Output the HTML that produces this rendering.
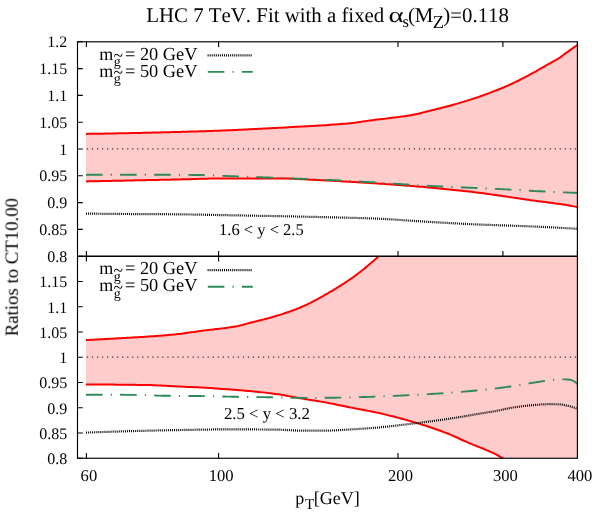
<!DOCTYPE html>
<html><head><meta charset="utf-8"><title>plot</title>
<style>html,body{margin:0;padding:0;background:#fff;}svg{display:block;}text{font-family:"Liberation Serif",serif;fill:#000;font-kerning:none;text-rendering:geometricPrecision;}</style></head><body>
<svg width="599" height="517" viewBox="0 0 599 517">
<rect width="599" height="517" fill="#fff"/>
<defs><clipPath id="cu"><rect x="77.5" y="41.8" width="499.9" height="214.39999999999998"/></clipPath><clipPath id="cl"><rect x="77.5" y="256.2" width="499.9" height="202.05"/></clipPath></defs>
<path d="M86.4,41.8 v5.2 M86.4,250.89999999999998 v10.6 M86.4,458.25 v-5.2 M218.6,41.8 v5.2 M218.6,250.89999999999998 v10.6 M218.6,458.25 v-5.2 M398.0,41.8 v5.2 M398.0,250.89999999999998 v10.6 M398.0,458.25 v-5.2 M502.9,41.8 v5.2 M502.9,250.89999999999998 v10.6 M502.9,458.25 v-5.2 M577.4,41.8 v5.2 M577.4,250.89999999999998 v10.6 M577.4,458.25 v-5.2 M77.5,41.80 h5.3 M77.5,256.20 h5.3 M77.5,68.60 h5.3 M77.5,281.46 h5.3 M77.5,95.40 h5.3 M77.5,306.71 h5.3 M77.5,122.20 h5.3 M77.5,331.97 h5.3 M77.5,149.00 h5.3 M77.5,357.23 h5.3 M77.5,175.80 h5.3 M77.5,382.48 h5.3 M77.5,202.60 h5.3 M77.5,407.74 h5.3 M77.5,229.40 h5.3 M77.5,432.99 h5.3 M77.5,256.20 h5.3 M77.5,458.25 h5.3 " fill="none" stroke="#000" stroke-width="1.1"/>
<g clip-path="url(#cu)">
<path d="M86.00,133.90 L88.47,133.86 L90.94,133.83 L93.41,133.79 L95.88,133.75 L98.35,133.71 L100.82,133.67 L103.29,133.63 L105.76,133.58 L108.23,133.54 L110.70,133.49 L113.17,133.45 L115.64,133.40 L118.11,133.35 L120.58,133.30 L123.05,133.25 L125.52,133.20 L127.99,133.15 L130.46,133.09 L132.93,133.04 L135.40,132.99 L137.87,132.93 L140.34,132.88 L142.81,132.82 L145.28,132.76 L147.75,132.70 L150.22,132.64 L152.69,132.59 L155.16,132.53 L157.63,132.47 L160.10,132.40 L162.57,132.34 L165.04,132.28 L167.51,132.22 L169.97,132.16 L172.44,132.09 L174.91,132.03 L177.38,131.96 L179.85,131.90 L182.32,131.83 L184.79,131.76 L187.26,131.69 L189.73,131.62 L192.20,131.55 L194.67,131.48 L197.14,131.40 L199.61,131.33 L202.08,131.25 L204.55,131.17 L207.02,131.09 L209.49,131.00 L211.96,130.92 L214.43,130.83 L216.90,130.74 L219.37,130.65 L221.84,130.56 L224.31,130.47 L226.78,130.37 L229.25,130.27 L231.72,130.16 L234.19,130.06 L236.66,129.94 L239.13,129.83 L241.60,129.71 L244.07,129.59 L246.54,129.47 L249.01,129.34 L251.48,129.21 L253.95,129.08 L256.42,128.95 L258.89,128.82 L261.36,128.69 L263.83,128.55 L266.30,128.42 L268.77,128.29 L271.24,128.15 L273.71,128.02 L276.18,127.89 L278.65,127.76 L281.12,127.63 L283.59,127.50 L286.06,127.38 L288.53,127.25 L291.00,127.12 L293.47,126.99 L295.94,126.86 L298.41,126.73 L300.88,126.60 L303.35,126.46 L305.82,126.33 L308.29,126.19 L310.76,126.05 L313.23,125.90 L315.70,125.76 L318.17,125.60 L320.64,125.45 L323.11,125.29 L325.58,125.13 L328.05,124.96 L330.52,124.79 L332.98,124.62 L335.45,124.44 L337.92,124.25 L340.39,124.05 L342.86,123.85 L345.33,123.64 L347.80,123.41 L350.27,123.17 L352.74,122.92 L355.21,122.62 L357.68,122.31 L360.15,121.97 L362.62,121.61 L365.09,121.25 L367.56,120.88 L370.03,120.52 L372.50,120.17 L374.97,119.83 L377.44,119.52 L379.91,119.22 L382.38,118.93 L384.85,118.65 L387.32,118.38 L389.79,118.10 L392.26,117.81 L394.73,117.52 L397.20,117.21 L399.67,116.88 L402.14,116.54 L404.61,116.17 L407.08,115.79 L409.55,115.39 L412.02,114.96 L414.49,114.50 L416.96,114.00 L419.43,113.41 L421.90,112.77 L424.37,112.12 L426.84,111.49 L429.31,110.88 L431.78,110.27 L434.25,109.67 L436.72,109.06 L439.19,108.46 L441.66,107.84 L444.13,107.22 L446.60,106.58 L449.07,105.93 L451.54,105.25 L454.01,104.56 L456.48,103.86 L458.95,103.14 L461.42,102.41 L463.89,101.66 L466.36,100.90 L468.83,100.13 L471.30,99.34 L473.77,98.54 L476.24,97.72 L478.71,96.89 L481.18,96.03 L483.65,95.15 L486.12,94.25 L488.59,93.33 L491.06,92.39 L493.53,91.44 L495.99,90.47 L498.46,89.49 L500.93,88.50 L503.40,87.48 L505.87,86.43 L508.34,85.36 L510.81,84.26 L513.28,83.13 L515.75,81.95 L518.22,80.73 L520.69,79.47 L523.16,78.19 L525.63,76.88 L528.10,75.56 L530.57,74.23 L533.04,72.89 L535.51,71.51 L537.98,70.11 L540.45,68.69 L542.92,67.27 L545.39,65.84 L547.86,64.43 L550.33,63.04 L552.80,61.70 L555.27,60.36 L557.74,58.93 L560.21,57.33 L562.68,55.53 L565.15,53.66 L567.62,51.83 L570.09,50.09 L572.56,48.37 L575.03,46.67 L577.50,45.00 L577.50,207.10 L575.03,206.61 L572.56,206.12 L570.09,205.66 L567.62,205.24 L565.15,204.84 L562.68,204.46 L560.21,204.10 L557.74,203.75 L555.27,203.40 L552.80,203.07 L550.33,202.74 L547.86,202.42 L545.39,202.10 L542.92,201.78 L540.45,201.46 L537.98,201.14 L535.51,200.82 L533.04,200.48 L530.57,200.14 L528.10,199.79 L525.63,199.44 L523.16,199.08 L520.69,198.72 L518.22,198.35 L515.75,197.99 L513.28,197.62 L510.81,197.25 L508.34,196.88 L505.87,196.51 L503.40,196.15 L500.93,195.78 L498.46,195.42 L495.99,195.07 L493.53,194.71 L491.06,194.37 L488.59,194.02 L486.12,193.69 L483.65,193.36 L481.18,193.04 L478.71,192.73 L476.24,192.43 L473.77,192.13 L471.30,191.84 L468.83,191.56 L466.36,191.27 L463.89,191.00 L461.42,190.72 L458.95,190.45 L456.48,190.18 L454.01,189.92 L451.54,189.66 L449.07,189.40 L446.60,189.15 L444.13,188.90 L441.66,188.66 L439.19,188.42 L436.72,188.18 L434.25,187.95 L431.78,187.72 L429.31,187.49 L426.84,187.27 L424.37,187.06 L421.90,186.84 L419.43,186.63 L416.96,186.43 L414.49,186.22 L412.02,186.02 L409.55,185.83 L407.08,185.63 L404.61,185.44 L402.14,185.25 L399.67,185.06 L397.20,184.88 L394.73,184.70 L392.26,184.52 L389.79,184.34 L387.32,184.17 L384.85,184.00 L382.38,183.83 L379.91,183.66 L377.44,183.50 L374.97,183.33 L372.50,183.17 L370.03,183.01 L367.56,182.85 L365.09,182.70 L362.62,182.54 L360.15,182.39 L357.68,182.24 L355.21,182.09 L352.74,181.95 L350.27,181.80 L347.80,181.66 L345.33,181.52 L342.86,181.38 L340.39,181.24 L337.92,181.11 L335.45,180.98 L332.98,180.85 L330.52,180.72 L328.05,180.60 L325.58,180.48 L323.11,180.35 L320.64,180.22 L318.17,180.09 L315.70,179.95 L313.23,179.81 L310.76,179.67 L308.29,179.54 L305.82,179.40 L303.35,179.27 L300.88,179.14 L298.41,179.02 L295.94,178.90 L293.47,178.80 L291.00,178.70 L288.53,178.61 L286.06,178.54 L283.59,178.48 L281.12,178.44 L278.65,178.41 L276.18,178.40 L273.71,178.40 L271.24,178.40 L268.77,178.40 L266.30,178.40 L263.83,178.40 L261.36,178.40 L258.89,178.40 L256.42,178.40 L253.95,178.40 L251.48,178.40 L249.01,178.40 L246.54,178.40 L244.07,178.40 L241.60,178.40 L239.13,178.40 L236.66,178.40 L234.19,178.40 L231.72,178.40 L229.25,178.40 L226.78,178.40 L224.31,178.40 L221.84,178.41 L219.37,178.44 L216.90,178.47 L214.43,178.50 L211.96,178.55 L209.49,178.60 L207.02,178.66 L204.55,178.72 L202.08,178.79 L199.61,178.85 L197.14,178.92 L194.67,179.00 L192.20,179.07 L189.73,179.14 L187.26,179.21 L184.79,179.28 L182.32,179.35 L179.85,179.41 L177.38,179.47 L174.91,179.52 L172.44,179.58 L169.97,179.63 L167.51,179.68 L165.04,179.74 L162.57,179.79 L160.10,179.84 L157.63,179.90 L155.16,179.95 L152.69,180.00 L150.22,180.05 L147.75,180.11 L145.28,180.16 L142.81,180.21 L140.34,180.26 L137.87,180.32 L135.40,180.37 L132.93,180.42 L130.46,180.47 L127.99,180.53 L125.52,180.58 L123.05,180.63 L120.58,180.68 L118.11,180.73 L115.64,180.79 L113.17,180.84 L110.70,180.89 L108.23,180.94 L105.76,180.99 L103.29,181.04 L100.82,181.09 L98.35,181.15 L95.88,181.20 L93.41,181.25 L90.94,181.30 L88.47,181.35 L86.00,181.40Z" fill="#ffcccc"/>
<path d="M86.00,133.90 L88.47,133.86 L90.94,133.83 L93.41,133.79 L95.88,133.75 L98.35,133.71 L100.82,133.67 L103.29,133.63 L105.76,133.58 L108.23,133.54 L110.70,133.49 L113.17,133.45 L115.64,133.40 L118.11,133.35 L120.58,133.30 L123.05,133.25 L125.52,133.20 L127.99,133.15 L130.46,133.09 L132.93,133.04 L135.40,132.99 L137.87,132.93 L140.34,132.88 L142.81,132.82 L145.28,132.76 L147.75,132.70 L150.22,132.64 L152.69,132.59 L155.16,132.53 L157.63,132.47 L160.10,132.40 L162.57,132.34 L165.04,132.28 L167.51,132.22 L169.97,132.16 L172.44,132.09 L174.91,132.03 L177.38,131.96 L179.85,131.90 L182.32,131.83 L184.79,131.76 L187.26,131.69 L189.73,131.62 L192.20,131.55 L194.67,131.48 L197.14,131.40 L199.61,131.33 L202.08,131.25 L204.55,131.17 L207.02,131.09 L209.49,131.00 L211.96,130.92 L214.43,130.83 L216.90,130.74 L219.37,130.65 L221.84,130.56 L224.31,130.47 L226.78,130.37 L229.25,130.27 L231.72,130.16 L234.19,130.06 L236.66,129.94 L239.13,129.83 L241.60,129.71 L244.07,129.59 L246.54,129.47 L249.01,129.34 L251.48,129.21 L253.95,129.08 L256.42,128.95 L258.89,128.82 L261.36,128.69 L263.83,128.55 L266.30,128.42 L268.77,128.29 L271.24,128.15 L273.71,128.02 L276.18,127.89 L278.65,127.76 L281.12,127.63 L283.59,127.50 L286.06,127.38 L288.53,127.25 L291.00,127.12 L293.47,126.99 L295.94,126.86 L298.41,126.73 L300.88,126.60 L303.35,126.46 L305.82,126.33 L308.29,126.19 L310.76,126.05 L313.23,125.90 L315.70,125.76 L318.17,125.60 L320.64,125.45 L323.11,125.29 L325.58,125.13 L328.05,124.96 L330.52,124.79 L332.98,124.62 L335.45,124.44 L337.92,124.25 L340.39,124.05 L342.86,123.85 L345.33,123.64 L347.80,123.41 L350.27,123.17 L352.74,122.92 L355.21,122.62 L357.68,122.31 L360.15,121.97 L362.62,121.61 L365.09,121.25 L367.56,120.88 L370.03,120.52 L372.50,120.17 L374.97,119.83 L377.44,119.52 L379.91,119.22 L382.38,118.93 L384.85,118.65 L387.32,118.38 L389.79,118.10 L392.26,117.81 L394.73,117.52 L397.20,117.21 L399.67,116.88 L402.14,116.54 L404.61,116.17 L407.08,115.79 L409.55,115.39 L412.02,114.96 L414.49,114.50 L416.96,114.00 L419.43,113.41 L421.90,112.77 L424.37,112.12 L426.84,111.49 L429.31,110.88 L431.78,110.27 L434.25,109.67 L436.72,109.06 L439.19,108.46 L441.66,107.84 L444.13,107.22 L446.60,106.58 L449.07,105.93 L451.54,105.25 L454.01,104.56 L456.48,103.86 L458.95,103.14 L461.42,102.41 L463.89,101.66 L466.36,100.90 L468.83,100.13 L471.30,99.34 L473.77,98.54 L476.24,97.72 L478.71,96.89 L481.18,96.03 L483.65,95.15 L486.12,94.25 L488.59,93.33 L491.06,92.39 L493.53,91.44 L495.99,90.47 L498.46,89.49 L500.93,88.50 L503.40,87.48 L505.87,86.43 L508.34,85.36 L510.81,84.26 L513.28,83.13 L515.75,81.95 L518.22,80.73 L520.69,79.47 L523.16,78.19 L525.63,76.88 L528.10,75.56 L530.57,74.23 L533.04,72.89 L535.51,71.51 L537.98,70.11 L540.45,68.69 L542.92,67.27 L545.39,65.84 L547.86,64.43 L550.33,63.04 L552.80,61.70 L555.27,60.36 L557.74,58.93 L560.21,57.33 L562.68,55.53 L565.15,53.66 L567.62,51.83 L570.09,50.09 L572.56,48.37 L575.03,46.67 L577.50,45.00" fill="none" stroke="#ff0000" stroke-width="2"/>
<path d="M86.00,181.40 L88.47,181.35 L90.94,181.30 L93.41,181.25 L95.88,181.20 L98.35,181.15 L100.82,181.09 L103.29,181.04 L105.76,180.99 L108.23,180.94 L110.70,180.89 L113.17,180.84 L115.64,180.79 L118.11,180.73 L120.58,180.68 L123.05,180.63 L125.52,180.58 L127.99,180.53 L130.46,180.47 L132.93,180.42 L135.40,180.37 L137.87,180.32 L140.34,180.26 L142.81,180.21 L145.28,180.16 L147.75,180.11 L150.22,180.05 L152.69,180.00 L155.16,179.95 L157.63,179.90 L160.10,179.84 L162.57,179.79 L165.04,179.74 L167.51,179.68 L169.97,179.63 L172.44,179.58 L174.91,179.52 L177.38,179.47 L179.85,179.41 L182.32,179.35 L184.79,179.28 L187.26,179.21 L189.73,179.14 L192.20,179.07 L194.67,179.00 L197.14,178.92 L199.61,178.85 L202.08,178.79 L204.55,178.72 L207.02,178.66 L209.49,178.60 L211.96,178.55 L214.43,178.50 L216.90,178.47 L219.37,178.44 L221.84,178.41 L224.31,178.40 L226.78,178.40 L229.25,178.40 L231.72,178.40 L234.19,178.40 L236.66,178.40 L239.13,178.40 L241.60,178.40 L244.07,178.40 L246.54,178.40 L249.01,178.40 L251.48,178.40 L253.95,178.40 L256.42,178.40 L258.89,178.40 L261.36,178.40 L263.83,178.40 L266.30,178.40 L268.77,178.40 L271.24,178.40 L273.71,178.40 L276.18,178.40 L278.65,178.41 L281.12,178.44 L283.59,178.48 L286.06,178.54 L288.53,178.61 L291.00,178.70 L293.47,178.80 L295.94,178.90 L298.41,179.02 L300.88,179.14 L303.35,179.27 L305.82,179.40 L308.29,179.54 L310.76,179.67 L313.23,179.81 L315.70,179.95 L318.17,180.09 L320.64,180.22 L323.11,180.35 L325.58,180.48 L328.05,180.60 L330.52,180.72 L332.98,180.85 L335.45,180.98 L337.92,181.11 L340.39,181.24 L342.86,181.38 L345.33,181.52 L347.80,181.66 L350.27,181.80 L352.74,181.95 L355.21,182.09 L357.68,182.24 L360.15,182.39 L362.62,182.54 L365.09,182.70 L367.56,182.85 L370.03,183.01 L372.50,183.17 L374.97,183.33 L377.44,183.50 L379.91,183.66 L382.38,183.83 L384.85,184.00 L387.32,184.17 L389.79,184.34 L392.26,184.52 L394.73,184.70 L397.20,184.88 L399.67,185.06 L402.14,185.25 L404.61,185.44 L407.08,185.63 L409.55,185.83 L412.02,186.02 L414.49,186.22 L416.96,186.43 L419.43,186.63 L421.90,186.84 L424.37,187.06 L426.84,187.27 L429.31,187.49 L431.78,187.72 L434.25,187.95 L436.72,188.18 L439.19,188.42 L441.66,188.66 L444.13,188.90 L446.60,189.15 L449.07,189.40 L451.54,189.66 L454.01,189.92 L456.48,190.18 L458.95,190.45 L461.42,190.72 L463.89,191.00 L466.36,191.27 L468.83,191.56 L471.30,191.84 L473.77,192.13 L476.24,192.43 L478.71,192.73 L481.18,193.04 L483.65,193.36 L486.12,193.69 L488.59,194.02 L491.06,194.37 L493.53,194.71 L495.99,195.07 L498.46,195.42 L500.93,195.78 L503.40,196.15 L505.87,196.51 L508.34,196.88 L510.81,197.25 L513.28,197.62 L515.75,197.99 L518.22,198.35 L520.69,198.72 L523.16,199.08 L525.63,199.44 L528.10,199.79 L530.57,200.14 L533.04,200.48 L535.51,200.82 L537.98,201.14 L540.45,201.46 L542.92,201.78 L545.39,202.10 L547.86,202.42 L550.33,202.74 L552.80,203.07 L555.27,203.40 L557.74,203.75 L560.21,204.10 L562.68,204.46 L565.15,204.84 L567.62,205.24 L570.09,205.66 L572.56,206.12 L575.03,206.61 L577.50,207.10" fill="none" stroke="#ff0000" stroke-width="2"/>
<path d="M86.9,148.9 L577.4,148.9" fill="none" stroke="#402828" stroke-width="1.3" stroke-dasharray="1.2 3.83"/>
<path d="M86.00,213.60 L88.47,213.63 L90.94,213.66 L93.41,213.69 L95.88,213.71 L98.35,213.74 L100.82,213.77 L103.29,213.79 L105.76,213.82 L108.23,213.84 L110.70,213.87 L113.17,213.89 L115.64,213.91 L118.11,213.94 L120.58,213.96 L123.05,213.98 L125.52,214.00 L127.99,214.01 L130.46,214.03 L132.93,214.05 L135.40,214.06 L137.87,214.08 L140.34,214.09 L142.81,214.10 L145.28,214.11 L147.75,214.13 L150.22,214.14 L152.69,214.15 L155.16,214.16 L157.63,214.17 L160.10,214.19 L162.57,214.20 L165.04,214.22 L167.51,214.23 L169.97,214.25 L172.44,214.27 L174.91,214.29 L177.38,214.31 L179.85,214.34 L182.32,214.37 L184.79,214.40 L187.26,214.44 L189.73,214.48 L192.20,214.53 L194.67,214.57 L197.14,214.62 L199.61,214.67 L202.08,214.72 L204.55,214.77 L207.02,214.82 L209.49,214.87 L211.96,214.92 L214.43,214.97 L216.90,215.02 L219.37,215.07 L221.84,215.12 L224.31,215.17 L226.78,215.21 L229.25,215.26 L231.72,215.30 L234.19,215.35 L236.66,215.39 L239.13,215.43 L241.60,215.47 L244.07,215.52 L246.54,215.56 L249.01,215.60 L251.48,215.65 L253.95,215.69 L256.42,215.73 L258.89,215.78 L261.36,215.82 L263.83,215.87 L266.30,215.91 L268.77,215.96 L271.24,216.01 L273.71,216.05 L276.18,216.10 L278.65,216.15 L281.12,216.20 L283.59,216.25 L286.06,216.30 L288.53,216.35 L291.00,216.41 L293.47,216.46 L295.94,216.51 L298.41,216.56 L300.88,216.62 L303.35,216.67 L305.82,216.73 L308.29,216.78 L310.76,216.84 L313.23,216.89 L315.70,216.95 L318.17,217.01 L320.64,217.07 L323.11,217.13 L325.58,217.19 L328.05,217.25 L330.52,217.31 L332.98,217.37 L335.45,217.43 L337.92,217.49 L340.39,217.55 L342.86,217.61 L345.33,217.67 L347.80,217.73 L350.27,217.79 L352.74,217.86 L355.21,217.93 L357.68,218.00 L360.15,218.07 L362.62,218.14 L365.09,218.22 L367.56,218.30 L370.03,218.38 L372.50,218.47 L374.97,218.56 L377.44,218.66 L379.91,218.77 L382.38,218.88 L384.85,219.01 L387.32,219.15 L389.79,219.30 L392.26,219.45 L394.73,219.61 L397.20,219.77 L399.67,219.94 L402.14,220.11 L404.61,220.28 L407.08,220.45 L409.55,220.63 L412.02,220.80 L414.49,220.97 L416.96,221.13 L419.43,221.30 L421.90,221.45 L424.37,221.60 L426.84,221.75 L429.31,221.89 L431.78,222.04 L434.25,222.18 L436.72,222.32 L439.19,222.47 L441.66,222.61 L444.13,222.75 L446.60,222.89 L449.07,223.03 L451.54,223.17 L454.01,223.30 L456.48,223.44 L458.95,223.57 L461.42,223.70 L463.89,223.83 L466.36,223.95 L468.83,224.07 L471.30,224.19 L473.77,224.30 L476.24,224.41 L478.71,224.52 L481.18,224.62 L483.65,224.71 L486.12,224.81 L488.59,224.90 L491.06,224.99 L493.53,225.07 L495.99,225.16 L498.46,225.24 L500.93,225.32 L503.40,225.40 L505.87,225.48 L508.34,225.56 L510.81,225.65 L513.28,225.73 L515.75,225.82 L518.22,225.90 L520.69,225.99 L523.16,226.08 L525.63,226.18 L528.10,226.28 L530.57,226.38 L533.04,226.49 L535.51,226.60 L537.98,226.71 L540.45,226.82 L542.92,226.94 L545.39,227.06 L547.86,227.18 L550.33,227.31 L552.80,227.43 L555.27,227.56 L557.74,227.69 L560.21,227.82 L562.68,227.96 L565.15,228.10 L567.62,228.23 L570.09,228.37 L572.56,228.51 L575.03,228.66 L577.50,228.80" fill="none" stroke="#000" stroke-width="2.2" stroke-dasharray="1 1.05"/>
<path d="M86.00,174.70 L88.47,174.70 L90.94,174.70 L93.41,174.70 L95.88,174.70 L98.35,174.70 L100.82,174.70 L103.29,174.70 L105.76,174.70 L108.23,174.70 L110.70,174.70 L113.17,174.70 L115.64,174.70 L118.11,174.70 L120.58,174.70 L123.05,174.70 L125.52,174.70 L127.99,174.70 L130.46,174.70 L132.93,174.70 L135.40,174.70 L137.87,174.70 L140.34,174.70 L142.81,174.70 L145.28,174.70 L147.75,174.71 L150.22,174.71 L152.69,174.72 L155.16,174.72 L157.63,174.73 L160.10,174.74 L162.57,174.75 L165.04,174.76 L167.51,174.77 L169.97,174.79 L172.44,174.80 L174.91,174.81 L177.38,174.83 L179.85,174.85 L182.32,174.87 L184.79,174.88 L187.26,174.90 L189.73,174.92 L192.20,174.95 L194.67,174.97 L197.14,174.99 L199.61,175.02 L202.08,175.06 L204.55,175.12 L207.02,175.20 L209.49,175.28 L211.96,175.38 L214.43,175.48 L216.90,175.58 L219.37,175.69 L221.84,175.80 L224.31,175.91 L226.78,176.02 L229.25,176.12 L231.72,176.21 L234.19,176.30 L236.66,176.38 L239.13,176.47 L241.60,176.55 L244.07,176.64 L246.54,176.73 L249.01,176.81 L251.48,176.90 L253.95,176.98 L256.42,177.07 L258.89,177.16 L261.36,177.25 L263.83,177.34 L266.30,177.43 L268.77,177.52 L271.24,177.61 L273.71,177.71 L276.18,177.80 L278.65,177.89 L281.12,177.99 L283.59,178.09 L286.06,178.18 L288.53,178.28 L291.00,178.38 L293.47,178.48 L295.94,178.58 L298.41,178.68 L300.88,178.78 L303.35,178.88 L305.82,178.98 L308.29,179.08 L310.76,179.19 L313.23,179.29 L315.70,179.40 L318.17,179.51 L320.64,179.61 L323.11,179.72 L325.58,179.83 L328.05,179.95 L330.52,180.06 L332.98,180.18 L335.45,180.29 L337.92,180.41 L340.39,180.53 L342.86,180.65 L345.33,180.78 L347.80,180.90 L350.27,181.03 L352.74,181.16 L355.21,181.29 L357.68,181.42 L360.15,181.56 L362.62,181.69 L365.09,181.83 L367.56,181.97 L370.03,182.12 L372.50,182.27 L374.97,182.42 L377.44,182.58 L379.91,182.74 L382.38,182.91 L384.85,183.07 L387.32,183.24 L389.79,183.41 L392.26,183.57 L394.73,183.74 L397.20,183.90 L399.67,184.05 L402.14,184.21 L404.61,184.36 L407.08,184.51 L409.55,184.67 L412.02,184.82 L414.49,184.97 L416.96,185.12 L419.43,185.27 L421.90,185.42 L424.37,185.56 L426.84,185.70 L429.31,185.84 L431.78,185.98 L434.25,186.11 L436.72,186.24 L439.19,186.36 L441.66,186.48 L444.13,186.60 L446.60,186.71 L449.07,186.82 L451.54,186.93 L454.01,187.04 L456.48,187.15 L458.95,187.25 L461.42,187.36 L463.89,187.47 L466.36,187.57 L468.83,187.68 L471.30,187.79 L473.77,187.90 L476.24,188.01 L478.71,188.12 L481.18,188.23 L483.65,188.35 L486.12,188.46 L488.59,188.57 L491.06,188.68 L493.53,188.80 L495.99,188.91 L498.46,189.03 L500.93,189.15 L503.40,189.27 L505.87,189.40 L508.34,189.53 L510.81,189.67 L513.28,189.81 L515.75,189.95 L518.22,190.09 L520.69,190.24 L523.16,190.38 L525.63,190.53 L528.10,190.67 L530.57,190.81 L533.04,190.95 L535.51,191.08 L537.98,191.20 L540.45,191.32 L542.92,191.44 L545.39,191.55 L547.86,191.67 L550.33,191.78 L552.80,191.89 L555.27,192.00 L557.74,192.11 L560.21,192.22 L562.68,192.32 L565.15,192.42 L567.62,192.52 L570.09,192.62 L572.56,192.72 L575.03,192.81 L577.50,192.90" fill="none" stroke="#2e8b57" stroke-width="1.9" stroke-dasharray="16.6 8.1 1.2 8.2"/>
</g>
<g clip-path="url(#cl)">
<path d="M86.00,340.10 L87.59,340.02 L89.18,339.93 L90.76,339.85 L92.35,339.77 L93.94,339.68 L95.53,339.60 L97.12,339.51 L98.70,339.43 L100.29,339.34 L101.88,339.26 L103.47,339.17 L105.06,339.08 L106.64,338.99 L108.23,338.91 L109.82,338.82 L111.41,338.73 L112.99,338.64 L114.58,338.55 L116.17,338.46 L117.76,338.37 L119.35,338.28 L120.93,338.19 L122.52,338.10 L124.11,338.01 L125.70,337.92 L127.29,337.83 L128.87,337.74 L130.46,337.64 L132.05,337.55 L133.64,337.46 L135.23,337.37 L136.81,337.28 L138.40,337.18 L139.99,337.09 L141.58,336.99 L143.17,336.89 L144.75,336.78 L146.34,336.68 L147.93,336.57 L149.52,336.46 L151.11,336.35 L152.69,336.24 L154.28,336.13 L155.87,336.01 L157.46,335.89 L159.05,335.78 L160.63,335.65 L162.22,335.53 L163.81,335.40 L165.40,335.27 L166.98,335.14 L168.57,335.00 L170.16,334.86 L171.75,334.71 L173.34,334.56 L174.92,334.41 L176.51,334.25 L178.10,334.07 L179.69,333.89 L181.28,333.69 L182.86,333.49 L184.45,333.27 L186.04,333.05 L187.63,332.82 L189.22,332.59 L190.80,332.36 L192.39,332.12 L193.98,331.89 L195.57,331.66 L197.16,331.43 L198.74,331.21 L200.33,330.99 L201.92,330.78 L203.51,330.58 L205.10,330.38 L206.68,330.19 L208.27,330.01 L209.86,329.83 L211.45,329.65 L213.04,329.47 L214.62,329.29 L216.21,329.11 L217.80,328.93 L219.39,328.75 L220.97,328.56 L222.56,328.37 L224.15,328.17 L225.74,327.97 L227.33,327.75 L228.91,327.53 L230.50,327.30 L232.09,327.05 L233.68,326.80 L235.27,326.53 L236.85,326.24 L238.44,325.91 L240.03,325.54 L241.62,325.15 L243.21,324.73 L244.79,324.30 L246.38,323.85 L247.97,323.41 L249.56,322.98 L251.15,322.56 L252.73,322.16 L254.32,321.75 L255.91,321.35 L257.50,320.95 L259.09,320.55 L260.67,320.16 L262.26,319.75 L263.85,319.35 L265.44,318.94 L267.03,318.52 L268.61,318.10 L270.20,317.67 L271.79,317.23 L273.38,316.77 L274.96,316.31 L276.55,315.83 L278.14,315.35 L279.73,314.85 L281.32,314.35 L282.90,313.84 L284.49,313.32 L286.08,312.79 L287.67,312.24 L289.26,311.69 L290.84,311.13 L292.43,310.55 L294.02,309.96 L295.61,309.35 L297.20,308.74 L298.78,308.10 L300.37,307.45 L301.96,306.79 L303.55,306.10 L305.14,305.39 L306.72,304.65 L308.31,303.89 L309.90,303.11 L311.49,302.30 L313.08,301.48 L314.66,300.65 L316.25,299.79 L317.84,298.93 L319.43,298.05 L321.02,297.16 L322.60,296.27 L324.19,295.36 L325.78,294.45 L327.37,293.54 L328.95,292.63 L330.54,291.71 L332.13,290.77 L333.72,289.83 L335.31,288.88 L336.89,287.91 L338.48,286.94 L340.07,285.95 L341.66,284.94 L343.25,283.92 L344.83,282.89 L346.42,281.84 L348.01,280.77 L349.60,279.69 L351.19,278.59 L352.77,277.48 L354.36,276.34 L355.95,275.17 L357.54,273.98 L359.13,272.75 L360.71,271.50 L362.30,270.22 L363.89,268.93 L365.48,267.62 L367.07,266.29 L368.65,264.95 L370.24,263.60 L371.83,262.25 L373.42,260.90 L375.01,259.54 L376.59,258.19 L378.18,256.85 L379.77,255.50 L381.36,254.15 L382.94,252.79 L384.53,251.43 L386.12,250.05 L387.71,248.68 L389.30,247.29 L390.88,245.90 L392.47,244.51 L394.06,243.10 L395.65,241.70 L397.24,240.28 L398.82,238.86 L400.41,237.43 L402.00,236.00 L582.40,236.00 L582.40,465.50 L515.00,465.50 L512.84,464.20 L510.69,462.92 L508.53,461.64 L506.38,460.38 L504.22,459.13 L502.07,457.89 L499.91,456.64 L497.75,455.39 L495.60,454.21 L493.44,453.14 L491.29,452.15 L489.13,451.22 L486.97,450.31 L484.82,449.40 L482.66,448.51 L480.51,447.64 L478.35,446.78 L476.20,445.92 L474.04,445.06 L471.88,444.20 L469.73,443.31 L467.57,442.40 L465.42,441.46 L463.26,440.48 L461.11,439.49 L458.95,438.49 L456.79,437.49 L454.64,436.51 L452.48,435.55 L450.33,434.64 L448.17,433.77 L446.02,432.92 L443.86,432.09 L441.70,431.28 L439.55,430.49 L437.39,429.71 L435.24,428.95 L433.08,428.21 L430.92,427.47 L428.77,426.76 L426.61,426.05 L424.46,425.36 L422.30,424.68 L420.15,424.02 L417.99,423.37 L415.83,422.72 L413.68,422.09 L411.52,421.46 L409.37,420.84 L407.21,420.23 L405.06,419.63 L402.90,419.04 L400.74,418.46 L398.59,417.89 L396.43,417.32 L394.28,416.77 L392.12,416.22 L389.96,415.68 L387.81,415.14 L385.65,414.62 L383.50,414.10 L381.34,413.59 L379.19,413.10 L377.03,412.62 L374.87,412.16 L372.72,411.72 L370.56,411.29 L368.41,410.87 L366.25,410.46 L364.10,410.06 L361.94,409.66 L359.78,409.26 L357.63,408.86 L355.47,408.46 L353.32,408.05 L351.16,407.63 L349.01,407.20 L346.85,406.76 L344.69,406.31 L342.54,405.85 L340.38,405.40 L338.23,404.94 L336.07,404.49 L333.91,404.04 L331.76,403.61 L329.60,403.18 L327.45,402.77 L325.29,402.37 L323.14,401.99 L320.98,401.62 L318.82,401.27 L316.67,400.92 L314.51,400.57 L312.36,400.23 L310.20,399.89 L308.05,399.55 L305.89,399.21 L303.73,398.86 L301.58,398.50 L299.42,398.13 L297.27,397.74 L295.11,397.34 L292.95,396.94 L290.80,396.53 L288.64,396.12 L286.49,395.72 L284.33,395.33 L282.18,394.96 L280.02,394.60 L277.86,394.27 L275.71,393.96 L273.55,393.67 L271.40,393.40 L269.24,393.13 L267.09,392.87 L264.93,392.62 L262.77,392.38 L260.62,392.15 L258.46,391.93 L256.31,391.71 L254.15,391.50 L251.99,391.29 L249.84,391.09 L247.68,390.90 L245.53,390.71 L243.37,390.53 L241.22,390.35 L239.06,390.18 L236.90,390.01 L234.75,389.85 L232.59,389.69 L230.44,389.53 L228.28,389.37 L226.13,389.21 L223.97,389.05 L221.81,388.89 L219.66,388.73 L217.50,388.57 L215.35,388.42 L213.19,388.27 L211.04,388.12 L208.88,387.97 L206.72,387.83 L204.57,387.70 L202.41,387.58 L200.26,387.46 L198.10,387.35 L195.94,387.25 L193.79,387.15 L191.63,387.06 L189.48,386.97 L187.32,386.88 L185.17,386.79 L183.01,386.70 L180.85,386.61 L178.70,386.52 L176.54,386.42 L174.39,386.32 L172.23,386.22 L170.08,386.10 L167.92,385.98 L165.76,385.86 L163.61,385.73 L161.45,385.61 L159.30,385.50 L157.14,385.39 L154.98,385.28 L152.83,385.19 L150.67,385.11 L148.52,385.05 L146.36,385.01 L144.21,384.97 L142.05,384.94 L139.89,384.91 L137.74,384.88 L135.58,384.85 L133.43,384.82 L131.27,384.80 L129.12,384.77 L126.96,384.74 L124.80,384.72 L122.65,384.70 L120.49,384.68 L118.34,384.66 L116.18,384.64 L114.03,384.62 L111.87,384.60 L109.71,384.59 L107.56,384.57 L105.40,384.56 L103.25,384.55 L101.09,384.54 L98.93,384.53 L96.78,384.52 L94.62,384.51 L92.47,384.51 L90.31,384.50 L88.16,384.50 L86.00,384.50Z" fill="#ffcccc"/>
<path d="M86.00,340.10 L87.59,340.02 L89.18,339.93 L90.76,339.85 L92.35,339.77 L93.94,339.68 L95.53,339.60 L97.12,339.51 L98.70,339.43 L100.29,339.34 L101.88,339.26 L103.47,339.17 L105.06,339.08 L106.64,338.99 L108.23,338.91 L109.82,338.82 L111.41,338.73 L112.99,338.64 L114.58,338.55 L116.17,338.46 L117.76,338.37 L119.35,338.28 L120.93,338.19 L122.52,338.10 L124.11,338.01 L125.70,337.92 L127.29,337.83 L128.87,337.74 L130.46,337.64 L132.05,337.55 L133.64,337.46 L135.23,337.37 L136.81,337.28 L138.40,337.18 L139.99,337.09 L141.58,336.99 L143.17,336.89 L144.75,336.78 L146.34,336.68 L147.93,336.57 L149.52,336.46 L151.11,336.35 L152.69,336.24 L154.28,336.13 L155.87,336.01 L157.46,335.89 L159.05,335.78 L160.63,335.65 L162.22,335.53 L163.81,335.40 L165.40,335.27 L166.98,335.14 L168.57,335.00 L170.16,334.86 L171.75,334.71 L173.34,334.56 L174.92,334.41 L176.51,334.25 L178.10,334.07 L179.69,333.89 L181.28,333.69 L182.86,333.49 L184.45,333.27 L186.04,333.05 L187.63,332.82 L189.22,332.59 L190.80,332.36 L192.39,332.12 L193.98,331.89 L195.57,331.66 L197.16,331.43 L198.74,331.21 L200.33,330.99 L201.92,330.78 L203.51,330.58 L205.10,330.38 L206.68,330.19 L208.27,330.01 L209.86,329.83 L211.45,329.65 L213.04,329.47 L214.62,329.29 L216.21,329.11 L217.80,328.93 L219.39,328.75 L220.97,328.56 L222.56,328.37 L224.15,328.17 L225.74,327.97 L227.33,327.75 L228.91,327.53 L230.50,327.30 L232.09,327.05 L233.68,326.80 L235.27,326.53 L236.85,326.24 L238.44,325.91 L240.03,325.54 L241.62,325.15 L243.21,324.73 L244.79,324.30 L246.38,323.85 L247.97,323.41 L249.56,322.98 L251.15,322.56 L252.73,322.16 L254.32,321.75 L255.91,321.35 L257.50,320.95 L259.09,320.55 L260.67,320.16 L262.26,319.75 L263.85,319.35 L265.44,318.94 L267.03,318.52 L268.61,318.10 L270.20,317.67 L271.79,317.23 L273.38,316.77 L274.96,316.31 L276.55,315.83 L278.14,315.35 L279.73,314.85 L281.32,314.35 L282.90,313.84 L284.49,313.32 L286.08,312.79 L287.67,312.24 L289.26,311.69 L290.84,311.13 L292.43,310.55 L294.02,309.96 L295.61,309.35 L297.20,308.74 L298.78,308.10 L300.37,307.45 L301.96,306.79 L303.55,306.10 L305.14,305.39 L306.72,304.65 L308.31,303.89 L309.90,303.11 L311.49,302.30 L313.08,301.48 L314.66,300.65 L316.25,299.79 L317.84,298.93 L319.43,298.05 L321.02,297.16 L322.60,296.27 L324.19,295.36 L325.78,294.45 L327.37,293.54 L328.95,292.63 L330.54,291.71 L332.13,290.77 L333.72,289.83 L335.31,288.88 L336.89,287.91 L338.48,286.94 L340.07,285.95 L341.66,284.94 L343.25,283.92 L344.83,282.89 L346.42,281.84 L348.01,280.77 L349.60,279.69 L351.19,278.59 L352.77,277.48 L354.36,276.34 L355.95,275.17 L357.54,273.98 L359.13,272.75 L360.71,271.50 L362.30,270.22 L363.89,268.93 L365.48,267.62 L367.07,266.29 L368.65,264.95 L370.24,263.60 L371.83,262.25 L373.42,260.90 L375.01,259.54 L376.59,258.19 L378.18,256.85 L379.77,255.50 L381.36,254.15 L382.94,252.79 L384.53,251.43 L386.12,250.05 L387.71,248.68 L389.30,247.29 L390.88,245.90 L392.47,244.51 L394.06,243.10 L395.65,241.70 L397.24,240.28 L398.82,238.86 L400.41,237.43 L402.00,236.00" fill="none" stroke="#ff0000" stroke-width="2"/>
<path d="M86.00,384.50 L88.16,384.50 L90.31,384.50 L92.47,384.51 L94.62,384.51 L96.78,384.52 L98.93,384.53 L101.09,384.54 L103.25,384.55 L105.40,384.56 L107.56,384.57 L109.71,384.59 L111.87,384.60 L114.03,384.62 L116.18,384.64 L118.34,384.66 L120.49,384.68 L122.65,384.70 L124.80,384.72 L126.96,384.74 L129.12,384.77 L131.27,384.80 L133.43,384.82 L135.58,384.85 L137.74,384.88 L139.89,384.91 L142.05,384.94 L144.21,384.97 L146.36,385.01 L148.52,385.05 L150.67,385.11 L152.83,385.19 L154.98,385.28 L157.14,385.39 L159.30,385.50 L161.45,385.61 L163.61,385.73 L165.76,385.86 L167.92,385.98 L170.08,386.10 L172.23,386.22 L174.39,386.32 L176.54,386.42 L178.70,386.52 L180.85,386.61 L183.01,386.70 L185.17,386.79 L187.32,386.88 L189.48,386.97 L191.63,387.06 L193.79,387.15 L195.94,387.25 L198.10,387.35 L200.26,387.46 L202.41,387.58 L204.57,387.70 L206.72,387.83 L208.88,387.97 L211.04,388.12 L213.19,388.27 L215.35,388.42 L217.50,388.57 L219.66,388.73 L221.81,388.89 L223.97,389.05 L226.13,389.21 L228.28,389.37 L230.44,389.53 L232.59,389.69 L234.75,389.85 L236.90,390.01 L239.06,390.18 L241.22,390.35 L243.37,390.53 L245.53,390.71 L247.68,390.90 L249.84,391.09 L251.99,391.29 L254.15,391.50 L256.31,391.71 L258.46,391.93 L260.62,392.15 L262.77,392.38 L264.93,392.62 L267.09,392.87 L269.24,393.13 L271.40,393.40 L273.55,393.67 L275.71,393.96 L277.86,394.27 L280.02,394.60 L282.18,394.96 L284.33,395.33 L286.49,395.72 L288.64,396.12 L290.80,396.53 L292.95,396.94 L295.11,397.34 L297.27,397.74 L299.42,398.13 L301.58,398.50 L303.73,398.86 L305.89,399.21 L308.05,399.55 L310.20,399.89 L312.36,400.23 L314.51,400.57 L316.67,400.92 L318.82,401.27 L320.98,401.62 L323.14,401.99 L325.29,402.37 L327.45,402.77 L329.60,403.18 L331.76,403.61 L333.91,404.04 L336.07,404.49 L338.23,404.94 L340.38,405.40 L342.54,405.85 L344.69,406.31 L346.85,406.76 L349.01,407.20 L351.16,407.63 L353.32,408.05 L355.47,408.46 L357.63,408.86 L359.78,409.26 L361.94,409.66 L364.10,410.06 L366.25,410.46 L368.41,410.87 L370.56,411.29 L372.72,411.72 L374.87,412.16 L377.03,412.62 L379.19,413.10 L381.34,413.59 L383.50,414.10 L385.65,414.62 L387.81,415.14 L389.96,415.68 L392.12,416.22 L394.28,416.77 L396.43,417.32 L398.59,417.89 L400.74,418.46 L402.90,419.04 L405.06,419.63 L407.21,420.23 L409.37,420.84 L411.52,421.46 L413.68,422.09 L415.83,422.72 L417.99,423.37 L420.15,424.02 L422.30,424.68 L424.46,425.36 L426.61,426.05 L428.77,426.76 L430.92,427.47 L433.08,428.21 L435.24,428.95 L437.39,429.71 L439.55,430.49 L441.70,431.28 L443.86,432.09 L446.02,432.92 L448.17,433.77 L450.33,434.64 L452.48,435.55 L454.64,436.51 L456.79,437.49 L458.95,438.49 L461.11,439.49 L463.26,440.48 L465.42,441.46 L467.57,442.40 L469.73,443.31 L471.88,444.20 L474.04,445.06 L476.20,445.92 L478.35,446.78 L480.51,447.64 L482.66,448.51 L484.82,449.40 L486.97,450.31 L489.13,451.22 L491.29,452.15 L493.44,453.14 L495.60,454.21 L497.75,455.39 L499.91,456.64 L502.07,457.89 L504.22,459.13 L506.38,460.38 L508.53,461.64 L510.69,462.92 L512.84,464.20 L515.00,465.50" fill="none" stroke="#ff0000" stroke-width="2"/>
<path d="M86.9,357.2 L577.4,357.2" fill="none" stroke="#402828" stroke-width="1.3" stroke-dasharray="1.2 3.83"/>
<path d="M86.00,432.60 L88.47,432.51 L90.94,432.42 L93.41,432.33 L95.88,432.25 L98.35,432.16 L100.82,432.08 L103.29,431.99 L105.76,431.91 L108.23,431.83 L110.70,431.75 L113.17,431.67 L115.64,431.59 L118.11,431.52 L120.58,431.44 L123.05,431.37 L125.52,431.30 L127.99,431.23 L130.46,431.16 L132.93,431.09 L135.40,431.02 L137.87,430.95 L140.34,430.89 L142.81,430.82 L145.28,430.76 L147.75,430.70 L150.22,430.64 L152.69,430.58 L155.16,430.53 L157.63,430.47 L160.10,430.42 L162.57,430.36 L165.04,430.31 L167.51,430.26 L169.97,430.21 L172.44,430.17 L174.91,430.12 L177.38,430.07 L179.85,430.03 L182.32,429.98 L184.79,429.93 L187.26,429.89 L189.73,429.84 L192.20,429.79 L194.67,429.75 L197.14,429.70 L199.61,429.66 L202.08,429.62 L204.55,429.58 L207.02,429.55 L209.49,429.51 L211.96,429.48 L214.43,429.46 L216.90,429.44 L219.37,429.42 L221.84,429.41 L224.31,429.40 L226.78,429.40 L229.25,429.40 L231.72,429.40 L234.19,429.41 L236.66,429.41 L239.13,429.41 L241.60,429.42 L244.07,429.43 L246.54,429.43 L249.01,429.44 L251.48,429.45 L253.95,429.46 L256.42,429.47 L258.89,429.49 L261.36,429.50 L263.83,429.51 L266.30,429.53 L268.77,429.55 L271.24,429.56 L273.71,429.58 L276.18,429.60 L278.65,429.65 L281.12,429.73 L283.59,429.85 L286.06,429.98 L288.53,430.13 L291.00,430.27 L293.47,430.40 L295.94,430.50 L298.41,430.57 L300.88,430.60 L303.35,430.60 L305.82,430.60 L308.29,430.60 L310.76,430.60 L313.23,430.60 L315.70,430.60 L318.17,430.60 L320.64,430.60 L323.11,430.60 L325.58,430.60 L328.05,430.59 L330.52,430.53 L332.98,430.45 L335.45,430.34 L337.92,430.21 L340.39,430.06 L342.86,429.91 L345.33,429.75 L347.80,429.59 L350.27,429.44 L352.74,429.30 L355.21,429.16 L357.68,429.01 L360.15,428.85 L362.62,428.69 L365.09,428.53 L367.56,428.35 L370.03,428.17 L372.50,427.98 L374.97,427.78 L377.44,427.58 L379.91,427.36 L382.38,427.12 L384.85,426.87 L387.32,426.61 L389.79,426.34 L392.26,426.07 L394.73,425.78 L397.20,425.49 L399.67,425.19 L402.14,424.89 L404.61,424.59 L407.08,424.29 L409.55,423.98 L412.02,423.68 L414.49,423.38 L416.96,423.08 L419.43,422.77 L421.90,422.46 L424.37,422.15 L426.84,421.83 L429.31,421.51 L431.78,421.18 L434.25,420.85 L436.72,420.52 L439.19,420.18 L441.66,419.83 L444.13,419.48 L446.60,419.13 L449.07,418.76 L451.54,418.39 L454.01,418.01 L456.48,417.61 L458.95,417.21 L461.42,416.79 L463.89,416.37 L466.36,415.94 L468.83,415.51 L471.30,415.08 L473.77,414.65 L476.24,414.23 L478.71,413.81 L481.18,413.39 L483.65,412.98 L486.12,412.58 L488.59,412.20 L491.06,411.84 L493.53,411.45 L495.99,411.01 L498.46,410.52 L500.93,409.99 L503.40,409.44 L505.87,408.90 L508.34,408.38 L510.81,407.91 L513.28,407.51 L515.75,407.13 L518.22,406.77 L520.69,406.43 L523.16,406.11 L525.63,405.82 L528.10,405.56 L530.57,405.34 L533.04,405.13 L535.51,404.93 L537.98,404.73 L540.45,404.55 L542.92,404.40 L545.39,404.28 L547.86,404.21 L550.33,404.20 L552.80,404.21 L555.27,404.24 L557.74,404.28 L560.21,404.39 L562.68,404.73 L565.15,405.22 L567.62,405.76 L570.09,406.36 L572.56,407.10 L575.03,407.95 L577.50,408.90" fill="none" stroke="#000" stroke-width="2.2" stroke-dasharray="1 1.05"/>
<path d="M86.00,394.70 L88.47,394.70 L90.94,394.70 L93.41,394.70 L95.88,394.71 L98.35,394.71 L100.82,394.72 L103.29,394.73 L105.76,394.73 L108.23,394.74 L110.70,394.75 L113.17,394.76 L115.64,394.77 L118.11,394.78 L120.58,394.80 L123.05,394.81 L125.52,394.83 L127.99,394.84 L130.46,394.86 L132.93,394.88 L135.40,394.90 L137.87,394.92 L140.34,394.97 L142.81,395.05 L145.28,395.13 L147.75,395.23 L150.22,395.33 L152.69,395.43 L155.16,395.52 L157.63,395.60 L160.10,395.67 L162.57,395.71 L165.04,395.74 L167.51,395.76 L169.97,395.79 L172.44,395.81 L174.91,395.83 L177.38,395.84 L179.85,395.86 L182.32,395.88 L184.79,395.89 L187.26,395.91 L189.73,395.93 L192.20,395.95 L194.67,395.97 L197.14,396.00 L199.61,396.04 L202.08,396.08 L204.55,396.12 L207.02,396.17 L209.49,396.23 L211.96,396.28 L214.43,396.34 L216.90,396.40 L219.37,396.46 L221.84,396.51 L224.31,396.57 L226.78,396.62 L229.25,396.67 L231.72,396.71 L234.19,396.75 L236.66,396.79 L239.13,396.83 L241.60,396.86 L244.07,396.89 L246.54,396.93 L249.01,396.96 L251.48,396.99 L253.95,397.03 L256.42,397.06 L258.89,397.10 L261.36,397.13 L263.83,397.17 L266.30,397.21 L268.77,397.26 L271.24,397.32 L273.71,397.38 L276.18,397.45 L278.65,397.52 L281.12,397.59 L283.59,397.65 L286.06,397.71 L288.53,397.77 L291.00,397.82 L293.47,397.86 L295.94,397.88 L298.41,397.90 L300.88,397.90 L303.35,397.90 L305.82,397.89 L308.29,397.88 L310.76,397.87 L313.23,397.86 L315.70,397.85 L318.17,397.83 L320.64,397.81 L323.11,397.79 L325.58,397.77 L328.05,397.75 L330.52,397.73 L332.98,397.71 L335.45,397.69 L337.92,397.65 L340.39,397.62 L342.86,397.57 L345.33,397.52 L347.80,397.47 L350.27,397.41 L352.74,397.34 L355.21,397.28 L357.68,397.21 L360.15,397.13 L362.62,397.06 L365.09,396.99 L367.56,396.91 L370.03,396.84 L372.50,396.76 L374.97,396.67 L377.44,396.58 L379.91,396.48 L382.38,396.38 L384.85,396.28 L387.32,396.17 L389.79,396.06 L392.26,395.95 L394.73,395.84 L397.20,395.72 L399.67,395.61 L402.14,395.49 L404.61,395.38 L407.08,395.26 L409.55,395.14 L412.02,395.02 L414.49,394.90 L416.96,394.77 L419.43,394.65 L421.90,394.52 L424.37,394.38 L426.84,394.24 L429.31,394.10 L431.78,393.96 L434.25,393.81 L436.72,393.65 L439.19,393.50 L441.66,393.33 L444.13,393.16 L446.60,392.99 L449.07,392.81 L451.54,392.63 L454.01,392.44 L456.48,392.24 L458.95,392.05 L461.42,391.84 L463.89,391.63 L466.36,391.42 L468.83,391.20 L471.30,390.98 L473.77,390.75 L476.24,390.52 L478.71,390.28 L481.18,390.03 L483.65,389.77 L486.12,389.51 L488.59,389.24 L491.06,388.97 L493.53,388.68 L495.99,388.39 L498.46,388.10 L500.93,387.79 L503.40,387.48 L505.87,387.15 L508.34,386.80 L510.81,386.44 L513.28,386.05 L515.75,385.66 L518.22,385.25 L520.69,384.83 L523.16,384.42 L525.63,384.00 L528.10,383.58 L530.57,383.17 L533.04,382.77 L535.51,382.38 L537.98,382.00 L540.45,381.61 L542.92,381.18 L545.39,380.75 L547.86,380.35 L550.33,380.00 L552.80,379.74 L555.27,379.59 L557.74,379.50 L560.21,379.43 L562.68,379.40 L565.15,379.41 L567.62,379.47 L570.09,379.68 L572.56,380.58 L575.03,382.05 L577.50,383.90" fill="none" stroke="#2e8b57" stroke-width="1.9" stroke-dasharray="16.6 8.1 1.2 8.2"/>
</g>
<g fill="none" stroke="#000" stroke-width="1.15">
<rect x="77.5" y="41.8" width="499.9" height="416.45"/>
<path d="M77.5,256.2 L577.4,256.2" stroke-width="1.35"/>
</g>
<g opacity="0.999">
<text x="67.2" y="47.30" font-size="16" text-anchor="end">1.2</text>
<text x="67.2" y="74.10" font-size="16" text-anchor="end">1.15</text>
<text x="67.2" y="100.90" font-size="16" text-anchor="end">1.1</text>
<text x="67.2" y="127.70" font-size="16" text-anchor="end">1.05</text>
<text x="67.2" y="154.50" font-size="16" text-anchor="end">1</text>
<text x="67.2" y="181.30" font-size="16" text-anchor="end">0.95</text>
<text x="67.2" y="208.10" font-size="16" text-anchor="end">0.9</text>
<text x="67.2" y="234.90" font-size="16" text-anchor="end">0.85</text>
<text x="67.2" y="261.70" font-size="16" text-anchor="end">0.8</text>
<text x="67.2" y="287.46" font-size="16" text-anchor="end">1.15</text>
<text x="67.2" y="312.71" font-size="16" text-anchor="end">1.1</text>
<text x="67.2" y="337.97" font-size="16" text-anchor="end">1.05</text>
<text x="67.2" y="363.23" font-size="16" text-anchor="end">1</text>
<text x="67.2" y="388.48" font-size="16" text-anchor="end">0.95</text>
<text x="67.2" y="413.74" font-size="16" text-anchor="end">0.9</text>
<text x="67.2" y="438.99" font-size="16" text-anchor="end">0.85</text>
<text x="67.2" y="464.25" font-size="16" text-anchor="end">0.8</text>
<text x="88.9" y="481.2" font-size="16.6" text-anchor="middle">60</text>
<text x="221.1" y="481.2" font-size="16.6" text-anchor="middle">100</text>
<text x="400.5" y="481.2" font-size="16.6" text-anchor="middle">200</text>
<text x="505.4" y="481.2" font-size="16.6" text-anchor="middle">300</text>
<text x="579.9" y="481.2" font-size="16.6" text-anchor="middle">400</text>
<text x="146.3" y="21.5" font-size="20.85">LHC 7 TeV. Fit with a fixed</text>
<text transform="translate(388.6,21.5) scale(1.36,1)" font-size="21.25">α</text>
<text x="402.4" y="27.2" font-size="16.5">s</text>
<text x="407.9" y="21.5" font-size="20.85">(M</text>
<text x="432.8" y="27.5" font-size="18.5">Z</text>
<text x="443.3" y="21.5" font-size="20.85">)=0.118</text>
<text transform="translate(17.8,336.3) rotate(-90)" font-size="18.8">Ratios to CT10.00</text>
<text x="295.3" y="504.2" font-size="18">p</text>
<text x="305.0" y="509.3" font-size="15">T</text>
<text x="313.8" y="504.2" font-size="18">[GeV]</text>
<text x="219.1" y="235.4" font-size="16.5">1.6 &lt; y &lt; 2.5</text>
<text x="223.9" y="419.4" font-size="16.8">2.5 &lt; y &lt; 3.2</text>
<text x="99.3" y="59.6" font-size="18">m</text>
<text x="113.4" y="61.4" font-size="17.5">~</text>
<text x="113.7" y="65.7" font-size="14">g</text>
<text x="125" y="59.6" font-size="18.35">= 20 GeV</text>
<text x="99.3" y="76.65" font-size="18">m</text>
<text x="113.4" y="78.45" font-size="17.5">~</text>
<text x="113.7" y="82.75" font-size="14">g</text>
<text x="125" y="76.65" font-size="18.35">= 50 GeV</text>
<path d="M207.6,55.300000000000004 L252.2,55.300000000000004" fill="none" stroke="#000" stroke-width="2.2" stroke-dasharray="1 1.05"/>
<path d="M207.8,71.9 L252.8,71.9" fill="none" stroke="#2e8b57" stroke-width="1.9" stroke-dasharray="16.6 8.1 1.2 8.2"/>
<text x="99.3" y="274.4" font-size="18">m</text>
<text x="113.4" y="276.2" font-size="17.5">~</text>
<text x="113.7" y="280.5" font-size="14">g</text>
<text x="125" y="274.4" font-size="18.35">= 20 GeV</text>
<text x="99.3" y="291.45" font-size="18">m</text>
<text x="113.4" y="293.25" font-size="17.5">~</text>
<text x="113.7" y="297.55" font-size="14">g</text>
<text x="125" y="291.45" font-size="18.35">= 50 GeV</text>
<path d="M207.6,270.09999999999997 L252.2,270.09999999999997" fill="none" stroke="#000" stroke-width="2.2" stroke-dasharray="1 1.05"/>
<path d="M207.8,286.7 L252.8,286.7" fill="none" stroke="#2e8b57" stroke-width="1.9" stroke-dasharray="16.6 8.1 1.2 8.2"/>
</g>
</svg></body></html>
